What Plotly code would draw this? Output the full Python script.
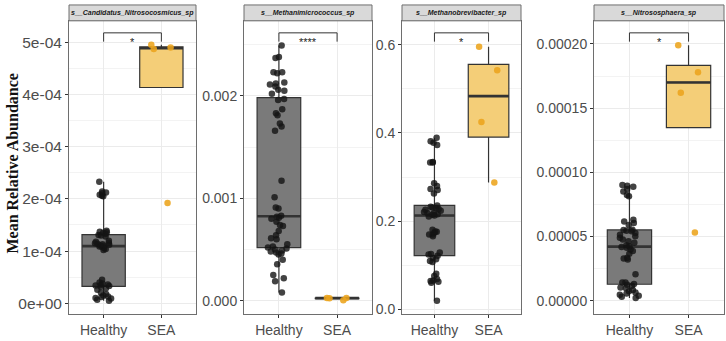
import numpy as np
import plotly.graph_objects as go

# ---------------- data ----------------
categories = ["Healthy", "SEA"]
taxa = ["s__Candidatus_Nitrosocosmicus_sp", "s__Methanimicrococcus_sp",
        "s__Methanobrevibacter_sp", "s__Nitrososphaera_sp"]
significance = ["*", "****", "*", "*"]

nitrosocosmicus_healthy = [2.33e-4, 2.14e-4, 2.12e-4, 2.08e-4, 2.06e-4, 2.05e-4, 2.11e-4,
                           1.39e-4, 1.37e-4, 1.36e-4, 1.35e-4, 1.33e-4, 1.31e-4, 1.30e-4, 1.28e-4,
                           1.20e-4, 1.18e-4, 1.16e-4, 1.15e-4, 1.14e-4, 1.13e-4, 1.12e-4, 1.11e-4,
                           1.10e-4, 1.09e-4, 1.08e-4, 1.06e-4, 1.04e-4, 1.02e-4,
                           4.5e-5, 4.0e-5, 3.8e-5, 3.6e-5, 3.5e-5, 3.4e-5, 3.3e-5, 3.1e-5, 2.9e-5,
                           2.6e-5, 2.0e-5, 1.8e-5, 1.5e-5, 1.3e-5, 1.2e-5, 1.0e-5, 9e-6, 7e-6, 5e-6]
nitrosocosmicus_sea = [4.95e-4, 4.90e-4, 4.87e-4, 1.92e-4]

methanimicrococcus_healthy = [2.49e-3, 2.38e-3, 2.37e-3, 2.23e-3, 2.23e-3, 2.22e-3, 2.13e-3, 2.12e-3,
                              2.11e-3, 2.09e-3, 2.06e-3, 2.05e-3, 2.02e-3, 1.97e-3, 1.96e-3, 1.87e-3,
                              1.83e-3, 1.81e-3, 1.73e-3, 1.70e-3, 1.66e-3, 1.17e-3, 1.01e-3, 0.91e-3,
                              0.90e-3, 0.83e-3, 0.80e-3, 0.82e-3, 0.81e-3, 0.77e-3, 0.74e-3, 0.73e-3,
                              0.68e-3, 0.64e-3, 0.61e-3, 0.60e-3, 0.55e-3, 0.53e-3, 0.52e-3, 0.51e-3,
                              0.50e-3, 0.49e-3, 0.48e-3, 0.47e-3, 0.46e-3, 0.45e-3, 0.40e-3, 0.355e-3,
                              0.25e-3, 0.22e-3, 0.19e-3, 0.08e-3]
methanimicrococcus_sea = [2.7e-5, 2.6e-5, 2.5e-5, 5e-6]

methanobrevibacter_healthy = [0.389, 0.381, 0.378, 0.373, 0.334, 0.333, 0.333,
                              0.286, 0.280, 0.273, 0.271, 0.263,
                              0.236, 0.233, 0.231, 0.230, 0.228, 0.226, 0.224, 0.221, 0.219, 0.218,
                              0.216, 0.215, 0.213, 0.211,
                              0.181, 0.177, 0.176, 0.174, 0.170, 0.170, 0.166,
                              0.129, 0.126, 0.125, 0.122, 0.117, 0.114, 0.110, 0.108,
                              0.081, 0.076, 0.069, 0.066, 0.065, 0.063, 0.061, 0.020]
methanobrevibacter_sea = [0.595, 0.542, 0.425, 0.288]

nitrososphaera_healthy = [9.0e-5, 8.95e-5, 8.88e-5, 8.7e-5, 8.5e-5, 8.23e-5, 8.13e-5,
                          6.3e-5, 6.17e-5, 6.05e-5, 5.9e-5, 5.53e-5, 5.5e-5, 5.45e-5, 5.4e-5,
                          5.27e-5, 5.14e-5, 5.02e-5, 4.89e-5, 4.76e-5, 4.63e-5, 4.5e-5, 4.32e-5,
                          4.24e-5, 4.17e-5, 4.12e-5, 3.99e-5, 3.86e-5, 3.65e-5, 3.34e-5, 3.29e-5,
                          3.2e-5, 2.05e-5,
                          1.41e-5, 1.41e-5, 1.29e-5, 1.23e-5, 1.16e-5, 1.03e-5, 0.98e-5, 0.82e-5,
                          0.72e-5, 0.64e-5, 0.56e-5, 0.46e-5, 0.38e-5, 0.31e-5, 0.2e-5]
nitrososphaera_sea = [1.99e-4, 1.78e-4, 1.62e-4, 5.3e-5]

healthy_sets = [nitrosocosmicus_healthy, methanimicrococcus_healthy,
                methanobrevibacter_healthy, nitrososphaera_healthy]
sea_sets = [nitrosocosmicus_sea, methanimicrococcus_sea,
            methanobrevibacter_sea, nitrososphaera_sea]

# ---------------- layout / style ----------------
W, H = 726, 341
panel_px = [(69, 196), (244, 372), (402, 521), (594, 724)]
top_px, bot_px, strip_top_px = 21, 317, 5
y_ranges = [[-2.09e-5, 5.41e-4], [-1.32e-4, 2.732e-3], [-0.0105, 0.654], [-1.06e-5, 2.18e-4]]
y_dticks = [1e-4, 0.001, 0.2, 5e-5]
y_formats = [None, ".3f", ".1f", ".5f"]
y_fontsize = [15.5, 14, 14, 14]

fill_colors = ["#7A7A7A", "#F4CE78"]
point_colors = ["rgba(20,20,20,0.8)", "rgba(236,164,28,0.88)"]
edge = "#333333"
grid = "#EBEBEB"
frame = "#6E6E6E"
BOXW = 0.75


def box_stats(v):
    a = np.sort(np.asarray(v, dtype=float))
    q1, med, q3 = np.percentile(a, [25, 50, 75])
    iqr = q3 - q1
    lo = a[a >= q1 - 1.5 * iqr].min()
    hi = a[a <= q3 + 1.5 * iqr].max()
    return q1, med, q3, min(lo, q1), max(hi, q3)


fig = go.Figure()
shapes, annotations = [], []
ydom = [(H - bot_px) / H, (H - top_px) / H]

for i in range(4):
    k = "" if i == 0 else str(i + 1)
    xa, ya = "x" + k, "y" + k
    groups = [healthy_sets[i], sea_sets[i]]
    for g, vals in enumerate(groups):
        pos = g + 1
        q1, med, q3, lo, hi = box_stats(vals)
        fig.add_trace(go.Box(x=[pos], q1=[q1], median=[med], q3=[q3], lowerfence=[lo],
                             upperfence=[hi], width=BOXW, whiskerwidth=0,
                             fillcolor=fill_colors[g],
                             line=dict(color=edge, width=1.2), boxpoints=False,
                             xaxis=xa, yaxis=ya, showlegend=False, hoverinfo="skip"))
        # thicker median line
        fig.add_trace(go.Box(x=[pos], q1=[med], median=[med], q3=[med], lowerfence=[med],
                             upperfence=[med], width=BOXW, whiskerwidth=0,
                             fillcolor="rgba(0,0,0,0)",
                             line=dict(color=edge, width=2.6), boxpoints=False,
                             xaxis=xa, yaxis=ya, showlegend=False, hoverinfo="skip"))
        # jittered points
        fig.add_trace(go.Box(x=[pos] * len(vals), y=vals, width=BOXW, boxpoints="all",
                             jitter=0.55, pointpos=0, whiskerwidth=0,
                             fillcolor="rgba(0,0,0,0)",
                             line=dict(color="rgba(0,0,0,0)", width=0),
                             marker=dict(color=point_colors[g], size=6.5, line=dict(width=0)),
                             xaxis=xa, yaxis=ya, showlegend=False, hoverinfo="skip"))

    x0, x1 = panel_px[i]
    xd = [x0 / W, x1 / W]
    fig.layout["xaxis" + k] = dict(domain=xd, anchor=ya, range=[0.4, 2.6], tickmode="array",
                                   tickvals=[1, 2], ticktext=categories, showgrid=True,
                                   gridcolor=grid, gridwidth=1, zeroline=False, showline=True,
                                   mirror=True, linecolor=frame, linewidth=1, ticks="outside",
                                   ticklen=3, tickcolor=edge,
                                   tickfont=dict(family="Liberation Sans, Arial", size=14,
                                                 color="#4D4D4D"))
    yax = dict(domain=ydom, anchor=xa, range=y_ranges[i], showgrid=True, gridcolor=grid,
               gridwidth=1, zeroline=False, showline=True, mirror=True, linecolor=frame,
               linewidth=1, ticks="outside", ticklen=3, tickcolor=edge,
               tickfont=dict(family="Liberation Sans, Arial", size=y_fontsize[i], color="#4D4D4D"),
               minor=dict(tickmode="linear", tick0=0, dtick=y_dticks[i] / 2, showgrid=True,
                          gridcolor="#F3F3F3", gridwidth=0.6, ticklen=0))
    if y_formats[i] is None:
        tv = [j * y_dticks[i] for j in range(6)]
        yax.update(tickmode="array", tickvals=tv, ticktext=[f"{v:.0e}" for v in tv])
    else:
        yax.update(tickmode="linear", tick0=0, dtick=y_dticks[i], tickformat=y_formats[i])
    fig.layout["yaxis" + k] = yax

    # strip
    shapes.append(dict(type="rect", xref="paper", yref="paper", x0=xd[0], x1=xd[1],
                       y0=(H - top_px) / H, y1=(H - strip_top_px) / H,
                       fillcolor="#D9D9D9", line=dict(color=frame, width=1), layer="above"))
    annotations.append(dict(xref="paper", yref="paper", x=(xd[0] + xd[1]) / 2,
                            y=(H - (top_px + strip_top_px) / 2) / H, text=f"<b><i>{taxa[i]}</i></b>",
                            showarrow=False, xanchor="center", yanchor="middle",
                            font=dict(family="Liberation Sans, Arial", size=7, color="#1A1A1A")))
    # significance bracket
    yl, yt = 0.959, 0.929
    shapes.append(dict(type="path", xref=xa, yref=ya + " domain",
                       path=f"M 1,{yt} L 1,{yl} L 2,{yl} L 2,{yt}",
                       line=dict(color=edge, width=1)))
    annotations.append(dict(xref=xa, yref=ya + " domain", x=1.5, y=yl - 0.003,
                            text=significance[i], showarrow=False, xanchor="center",
                            yanchor="top", font=dict(family="Liberation Sans, Arial", size=11,
                                                     color="#222")))

annotations.append(dict(xref="paper", yref="paper", x=13 / W, y=(H - 165) / H,
                        text="<b>Mean Relative Abundance</b>", textangle=-90, showarrow=False,
                        xanchor="center", yanchor="middle",
                        font=dict(family="Liberation Serif, Times New Roman", size=16,
                                  color="#111")))

fig.update_layout(width=W, height=H, margin=dict(l=0, r=0, t=0, b=0),
                  paper_bgcolor="white", plot_bgcolor="white", boxmode="overlay",
                  shapes=shapes, annotations=annotations, showlegend=False)

fig.write_html("out.html")
